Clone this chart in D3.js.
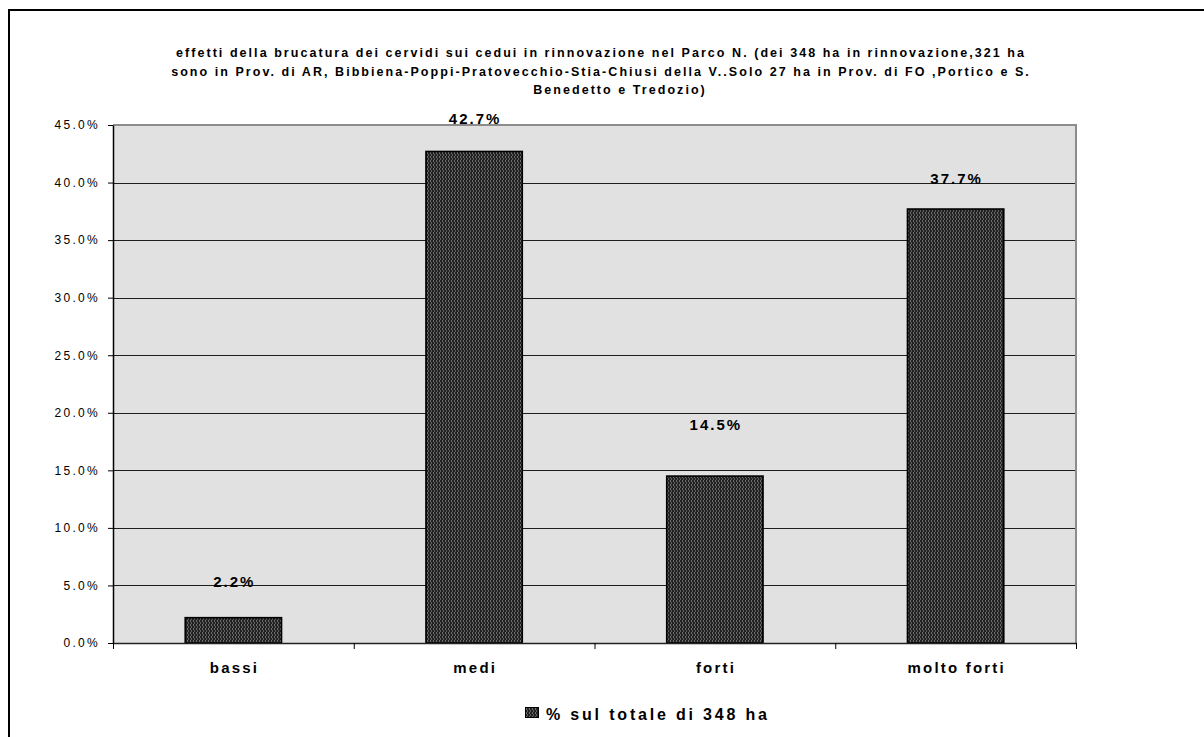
<!DOCTYPE html>
<html><head><meta charset="utf-8">
<script src="https://cdn.jsdelivr.net/npm/d3@7/dist/d3.min.js"></script>
<style>
body{margin:0;background:#fff;overflow:hidden}
svg{display:block}
text{font-family:"Liberation Sans",Arial,Helvetica,sans-serif;fill:#000}
</style>
</head><body>
<svg id="chart" width="1204" height="737"></svg>
<script>
// ---- data ----
const categories = ["bassi", "medi", "forti", "molto forti"];
const values = [2.2, 42.7, 14.5, 37.7];
const yTicks = [0, 5, 10, 15, 20, 25, 30, 35, 40, 45];
const seriesName = "% sul totale di 348 ha";
const titleLines = [
  "effetti della brucatura dei cervidi sui cedui in rinnovazione nel Parco N. (dei 348 ha in rinnovazione,321 ha",
  "sono in Prov. di AR, Bibbiena-Poppi-Pratovecchio-Stia-Chiusi della V..Solo 27 ha in Prov. di FO ,Portico e S.",
  "Benedetto e Tredozio)"
];

// ---- layout ----
const svg = d3.select("#chart");
const plot = {left: 113, right: 1076, top: 125, bottom: 643};

// pattern for bars
const defs = svg.append("defs");
const pat = defs.append("pattern").attr("id", "barPat")
  .attr("patternUnits", "userSpaceOnUse").attr("width", 3).attr("height", 4);
pat.append("rect").attr("width", 3).attr("height", 4).attr("fill", "#222");
pat.append("rect").attr("x", 1).attr("y", 0).attr("width", 1).attr("height", 2).attr("fill", "#6e6e6e");
pat.append("rect").attr("x", 2).attr("y", 2).attr("width", 1).attr("height", 2).attr("fill", "#5e5e5e");

// outer frame
svg.append("rect").attr("x", 9).attr("y", 10).attr("width", 1300).attr("height", 900)
  .attr("fill", "#fff").attr("stroke", "#000").attr("stroke-width", 2);

function measure(el) {
  el.setAttribute("letter-spacing", 0);
  return el.getComputedTextLength();
}

// title: spacing derived from first line, shared by all lines
const titleSize = 12.5;
const titleBase = [57, 75.5, 94];
const titleCenters = [600, 600, 619];
const tEls = titleLines.map((t, i) => svg.append("text").attr("y", titleBase[i])
  .attr("font-size", titleSize).attr("font-weight", "bold").text(t).node());
const w0 = measure(tEls[0]);
const tls = (848 - w0) / (titleLines[0].length - 1);
tEls.forEach((el, i) => {
  const w = measure(el);
  const full = w + tls * (el.textContent.length - 1);
  el.setAttribute("letter-spacing", tls);
  el.setAttribute("x", titleCenters[i] - full / 2);
});

// scales
const x = d3.scaleBand().domain(categories).range([plot.left, plot.right])
  .paddingInner(0.6).paddingOuter(0.3);
const y = d3.scaleLinear().domain([0, 45]).range([plot.bottom, plot.top]);

// plot background
svg.append("rect").attr("x", plot.left).attr("y", plot.top)
  .attr("width", plot.right - plot.left).attr("height", plot.bottom - plot.top)
  .attr("fill", "#e1e1e1");

// gridlines
svg.append("g").selectAll("line").data(yTicks.filter(d => d > 0 && d < 45)).join("line")
  .attr("x1", plot.left).attr("x2", plot.right)
  .attr("y1", d => Math.round(y(d)) + 0.5).attr("y2", d => Math.round(y(d)) + 0.5)
  .attr("stroke", "#1e1e1e").attr("stroke-width", 1);

// top and right plot border
svg.append("path")
  .attr("d", `M${plot.left},${plot.top}H${plot.right}V${plot.bottom}`)
  .attr("fill", "none").attr("stroke", "#8c8c8c").attr("stroke-width", 2);

// bars
svg.append("g").selectAll("rect").data(values).join("rect")
  .attr("x", (d, i) => x(categories[i]))
  .attr("width", x.bandwidth())
  .attr("y", d => y(d))
  .attr("height", d => y(0) - y(d))
  .attr("fill", "url(#barPat)")
  .attr("stroke", "#000").attr("stroke-width", 1.6);

// y axis
const yAxis = svg.append("g").attr("transform", `translate(${plot.left},0)`)
  .call(d3.axisLeft(y).tickValues(yTicks).tickSize(5).tickSizeOuter(0).tickPadding(8)
    .tickFormat(d => d.toFixed(1) + "%"));
yAxis.select(".domain").attr("stroke", "#000").attr("stroke-width", 1.5);
yAxis.selectAll(".tick line").attr("stroke", "#000");
yAxis.selectAll(".tick text").attr("font-size", 12).attr("letter-spacing", 2.3)
  .attr("font-family", '"Liberation Sans",Arial,sans-serif').attr("fill", "#000");

// x axis (boundary ticks)
const xb = d3.scaleLinear().domain([0, categories.length]).range([plot.left, plot.right]);
const xAxis = svg.append("g").attr("transform", `translate(0,${plot.bottom})`)
  .call(d3.axisBottom(xb).ticks(categories.length).tickSize(6).tickSizeOuter(0).tickFormat(""));
xAxis.select(".domain").attr("stroke", "#222").attr("stroke-width", 1.5);
xAxis.selectAll(".tick line").attr("stroke", "#000");

// category labels
svg.append("g").selectAll("text").data(categories).join("text")
  .attr("x", d => x(d) + x.bandwidth() / 2 + 1.1)
  .attr("y", plot.bottom + 30)
  .attr("text-anchor", "middle").attr("font-size", 15).attr("font-weight", "bold")
  .attr("letter-spacing", 2.2)
  .text(d => d);

// data labels
const labelLift = [31, 27, 46, 25.5];
svg.append("g").selectAll("text").data(values).join("text")
  .attr("x", (d, i) => x(categories[i]) + x.bandwidth() / 2 + 1)
  .attr("y", (d, i) => y(d) - labelLift[i])
  .attr("text-anchor", "middle").attr("font-size", 15).attr("font-weight", "bold")
  .attr("letter-spacing", 2)
  .text(d => d.toFixed(1) + "%");

// legend
svg.append("rect").attr("x", 525.5).attr("y", 707.5).attr("width", 13).attr("height", 10)
  .attr("fill", "url(#barPat)").attr("stroke", "#000").attr("stroke-width", 1);
const lg = svg.append("text").attr("y", 720).attr("font-size", 16).attr("font-weight", "bold").text(seriesName);
{
  const el = lg.node();
  const w = measure(el);
  const ls = (221 - w) / (seriesName.length - 1);
  el.setAttribute("letter-spacing", ls);
  el.setAttribute("x", 546);
}
</script>
</body></html>
